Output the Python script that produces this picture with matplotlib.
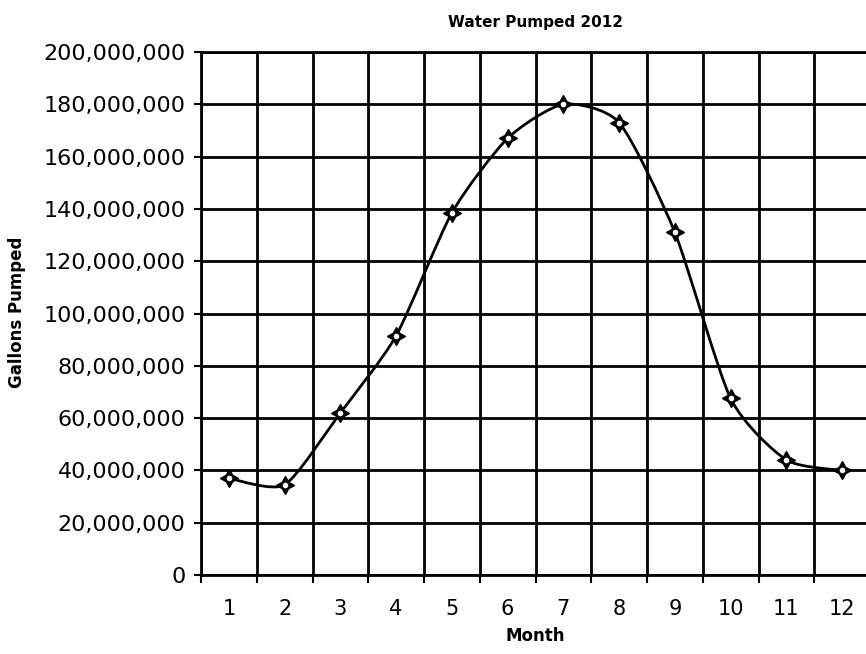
import matplotlib
matplotlib.use("Agg")
import matplotlib.pyplot as plt
from matplotlib.path import Path
from matplotlib.patches import PathPatch
from matplotlib.ticker import FuncFormatter, MultipleLocator
import numpy as np

months = [1, 2, 3, 4, 5, 6, 7, 8, 9, 10, 11, 12]
month_labels = ["1", "2", "3", "4", "5", "6", "7", "8", "9", "10", "11", "12"]
gallons = [37e6, 34.5e6, 62e6, 91.5e6, 138.5e6, 167e6, 180e6, 173e6, 131e6, 67.5e6, 44e6, 40e6]

plt.rcParams['font.family'] = ['DejaVu Sans']

fig = plt.figure(figsize=(8.66, 6.54), dpi=100)
ax = fig.add_axes([201/866, 1 - 575/654, (870 - 201)/866, (575 - 52)/654])

x = np.array(months, dtype=float)
y = np.array(gallons, dtype=float)

# smoothed line (Bezier through the points, like Excel's smoothed line)
k = 1 / 9
verts = [(x[0], y[0])]
codes = [Path.MOVETO]
n = len(x)
for i in range(n - 1):
    p0 = (x[i - 1], y[i - 1]) if i > 0 else (x[i], y[i])
    p1 = (x[i], y[i])
    p2 = (x[i + 1], y[i + 1])
    p3 = (x[i + 2], y[i + 2]) if i + 2 < n else (x[i + 1], y[i + 1])
    c1 = (p1[0] + (p2[0] - p0[0]) * k, p1[1] + (p2[1] - p0[1]) * k)
    c2 = (p2[0] - (p3[0] - p1[0]) * k, p2[1] - (p3[1] - p1[1]) * k)
    verts += [c1, c2, p2]
    codes += [Path.CURVE4] * 3
patch = PathPatch(Path(verts, codes), facecolor='none', edgecolor='black', lw=2.0, zorder=3)
ax.add_patch(patch)

ax.plot(x, y, linestyle='none', marker=(4, 1, 0), markersize=13, color='black', zorder=4)
ax.plot(x, y, linestyle='none', marker='o', markersize=3, color='white', zorder=5)

ax.set_xlim(0.5, 12.5)
ax.set_ylim(0, 200e6)

ax.yaxis.set_major_locator(MultipleLocator(20e6))
ax.yaxis.set_major_formatter(FuncFormatter(lambda v, p: f"{v:,.0f}"))
ax.set_xticks(months)
ax.set_xticklabels(month_labels)
ax.set_xticks(np.arange(0.5, 13, 1), minor=True)

ax.grid(False)
for v in np.arange(0.5, 13, 1):
    ax.axvline(v, color='black', lw=2.0, zorder=1)
for v in np.arange(0, 200e6 + 1, 20e6):
    ax.axhline(v, color='black', lw=2.0, zorder=1)

for s in ax.spines.values():
    s.set_color('black')
    s.set_linewidth(2.0)

ax.tick_params(axis='x', which='major', length=0, pad=17, labelsize=15)
ax.tick_params(axis='x', which='minor', length=6, width=1.5, direction='out')
ax.tick_params(axis='y', which='major', length=5, width=1.5, direction='out', pad=6, labelsize=16)

ax.set_xlabel("Month", fontsize=12, fontweight='bold', labelpad=6)
fig.text(17/866, 1 - 312/654, "Gallons Pumped", rotation=90, fontsize=12,
         fontweight='bold', ha='center', va='center')
fig.text(536/866, 1 - 22/654, "Water Pumped 2012", fontsize=11, fontweight='bold',
         ha='center', va='center')

fig.savefig("out.png", dpi=100)
